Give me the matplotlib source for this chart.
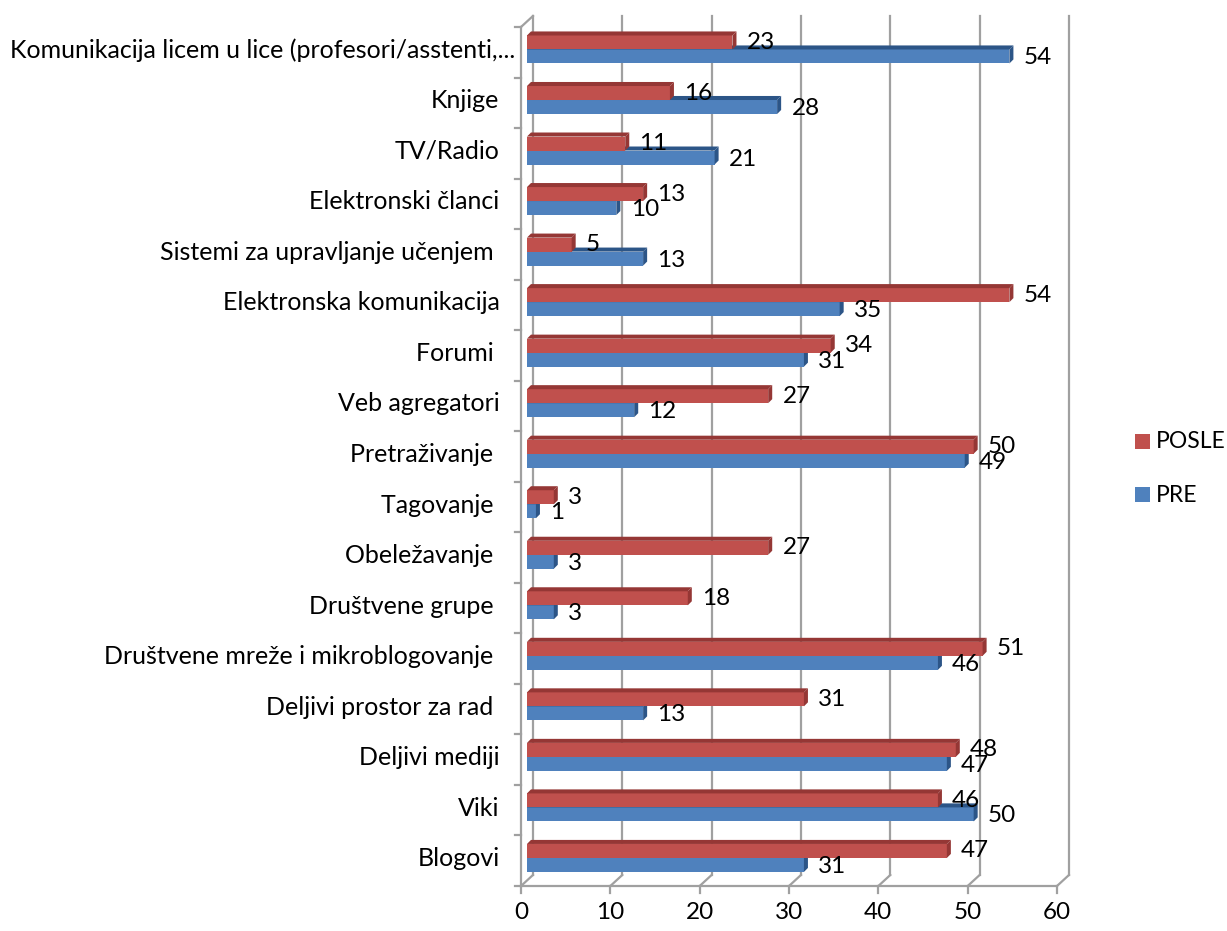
import numpy as np
import matplotlib.pyplot as plt
from matplotlib.patches import Polygon

plt.rcParams['font.family'] = ['Lato', 'DejaVu Sans']

# categories from bottom to top
categories = ["Blogovi", "Viki", "Deljivi mediji", "Deljivi prostor za rad ",
              "Društvene mreže i mikroblogovanje ", "Društvene grupe ",
              "Obeležavanje ", "Tagovanje ", "Pretraživanje ", "Veb agregatori",
              "Forumi ", "Elektronska komunikacija", "Sistemi za upravljanje učenjem ",
              "Elektronski članci", "TV/Radio", "Knjige",
              "Komunikacija licem u lice (profesori/asstenti,..."]
pre = [31, 50, 47, 13, 46, 3, 3, 1, 49, 12, 31, 35, 13, 10, 21, 28, 54]
posle = [47, 46, 48, 31, 51, 18, 27, 3, 50, 27, 34, 54, 5, 13, 11, 16, 23]
x_ticks = [0, 10, 20, 30, 40, 50, 60]

RED, RED_D = "#C0504D", "#953735"
BLUE, BLUE_D = "#4F81BD", "#2C5587"
GRID = "#a0a0a0"

W, H = 1227, 931
fig = plt.figure(figsize=(W / 100, H / 100), dpi=100)
ax = fig.add_axes([521 / W, (H - 886) / H, 536 / W, 859 / H])
ax.set_xlim(0, 60)
ax.set_ylim(-0.5, 16.5)
ax.axis("off")

# depth offsets (data units)
DX, DY = 1.34, 0.218
bx, by = 0.45, 0.08      # bar depth
x0 = 0.67                # bar start
bh = 0.277
fs = 17.5

# back wall gridlines and floor
for t in x_ticks:
    ax.plot([t + DX, t + DX], [-0.5 + DY, 16.5 + DY], color=GRID, lw=1.6, clip_on=False, zorder=1)
    ax.plot([t, t + DX], [-0.5, -0.5 + DY], color=GRID, lw=1.6, clip_on=False, zorder=1)
    ax.plot([t, t], [-0.5, -0.64], color=GRID, lw=1.6, clip_on=False, zorder=1)
    ax.text(t, -0.82, str(t), ha="center", va="top", fontsize=fs)
ax.plot([0, 60], [-0.5, -0.5], color=GRID, lw=1.6, clip_on=False, zorder=1)
ax.plot([0, 0], [-0.5, 16.5], color=GRID, lw=1.6, clip_on=False, zorder=1)
ax.plot([0, DX], [16.5, 16.5 + DY], color=GRID, lw=1.6, clip_on=False, zorder=1)
for k in range(18):
    ax.plot([0, -0.7], [k - 0.5, k - 0.5], color=GRID, lw=1.6, clip_on=False, zorder=1)


def bar3d(y0, v, c, cd):
    y1 = y0 + bh
    ax.barh(y0 + bh / 2, v, height=bh, left=x0, color=c, edgecolor="none", zorder=3)
    xe = x0 + v
    ax.add_patch(Polygon([(x0, y1), (x0 + bx, y1 + by), (xe + bx, y1 + by), (xe, y1)],
                         closed=True, facecolor=cd, edgecolor="none", zorder=3))
    ax.add_patch(Polygon([(xe, y0), (xe, y1), (xe + bx, y1 + by), (xe + bx, y0 + by)],
                         closed=True, facecolor=cd, edgecolor="none", zorder=3))


ys = np.arange(len(categories))
for y, p, q in zip(ys, pre, posle):
    base = y + 0.055
    bar3d(base - bh, p, BLUE, BLUE_D)
    bar3d(base, q, RED, RED_D)
    ax.text(x0 + p + 1.6, base - bh / 2 - 0.03, str(p), ha="left", va="center", fontsize=fs, zorder=5)
    ax.text(x0 + q + 1.6, base + bh / 2, str(q), ha="left", va="center", fontsize=fs, zorder=5)

for y, c in zip(ys, categories):
    xr = -0.6 if y == 16 else -2.4
    ax.text(xr, y + 0.04, c, ha="right", va="center", fontsize=18)

# legend
for yy, c, lab in [(442, RED, "POSLE"), (495, BLUE, "PRE")]:
    fig.patches.append(plt.Rectangle((1135 / W, 1 - (yy + 7) / H), 15 / W, 15 / H,
                                     transform=fig.transFigure, facecolor=c, edgecolor="none"))
    fig.text(1156 / W, 1 - yy / H, lab, ha="left", va="center", fontsize=16.5)

fig.savefig("out.png", dpi=100, facecolor="white")
